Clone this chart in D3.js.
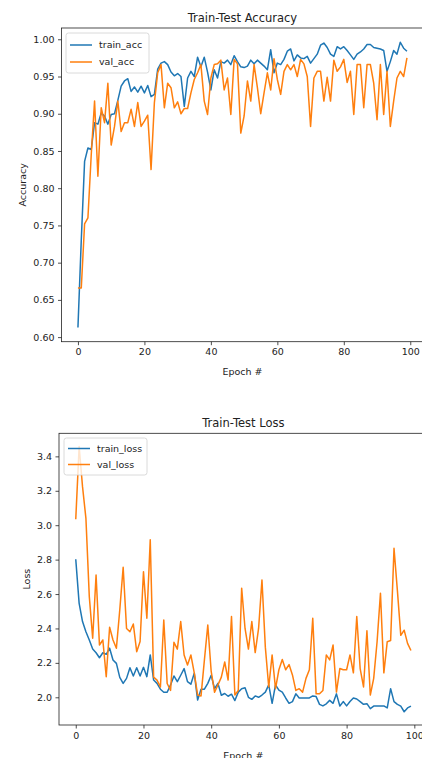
<!DOCTYPE html>
<html>
<head>
<meta charset="utf-8">
<script src="https://cdn.jsdelivr.net/npm/d3@7"></script>
<style>
  body { margin: 0; background: #fff; }
  text { font-family: "DejaVu Sans", sans-serif; fill: #222; }
</style>
</head>
<body>
<div id="chart-area"></div>
<script>
const W = 422
const H = 758

const epochs = d3.range(100)
const xTicks = [0, 20, 40, 60, 80, 100]
const accTicks = [0.60, 0.65, 0.70, 0.75, 0.80, 0.85, 0.90, 0.95, 1.00]
const lossTicks = [2.0, 2.2, 2.4, 2.6, 2.8, 3.0, 3.2, 3.4]

const trainAcc = [0.613,0.73,0.836,0.854,0.852,0.888,0.886,0.901,0.897,0.886,
  0.899,0.900,0.918,0.937,0.944,0.947,0.930,0.936,0.929,0.937,
  0.928,0.938,0.923,0.926,0.960,0.968,0.970,0.966,0.956,0.951,
  0.954,0.950,0.910,0.948,0.957,0.950,0.976,0.963,0.976,0.956,
  0.932,0.959,0.948,0.970,0.968,0.972,0.966,0.978,0.970,0.963,
  0.962,0.964,0.972,0.967,0.972,0.968,0.964,0.959,0.986,0.955,
  0.968,0.966,0.973,0.984,0.987,0.971,0.979,0.975,0.974,0.977,
  0.968,0.974,0.980,0.992,0.995,0.989,0.980,0.977,0.990,0.987,
  0.990,0.985,0.979,0.973,0.980,0.983,0.987,0.993,0.993,0.989,
  0.988,0.987,0.985,0.957,0.970,0.985,0.980,0.996,0.988,0.984]

const valAcc = [0.666,0.666,0.752,0.760,0.845,0.917,0.816,0.908,0.888,0.941,
  0.858,0.883,0.917,0.876,0.888,0.888,0.906,0.883,0.915,0.883,
  0.890,0.898,0.825,0.915,0.955,0.966,0.908,0.941,0.935,0.908,
  0.916,0.900,0.907,0.907,0.928,0.946,0.955,0.966,0.917,0.899,
  0.948,0.966,0.967,0.972,0.932,0.948,0.899,0.973,0.967,0.874,
  0.897,0.944,0.917,0.966,0.935,0.900,0.928,0.955,0.932,0.974,
  0.946,0.926,0.957,0.966,0.959,0.966,0.950,0.973,0.967,0.950,
  0.883,0.948,0.957,0.957,0.917,0.949,0.917,0.972,0.957,0.963,
  0.973,0.942,0.957,0.899,0.966,0.966,0.908,0.966,0.966,0.941,
  0.892,0.966,0.899,0.957,0.883,0.917,0.948,0.957,0.950,0.975]

const trainLoss = [2.802,2.546,2.44,2.381,2.333,2.281,2.259,2.230,2.259,2.25,
  2.285,2.217,2.197,2.116,2.081,2.110,2.172,2.124,2.172,2.124,
  2.174,2.12,2.246,2.10,2.081,2.047,2.029,2.029,2.072,2.124,
  2.091,2.128,2.167,2.091,2.076,2.140,1.984,2.047,2.047,2.081,
  2.128,2.05,2.081,2.012,2.022,2.006,2.018,1.981,2.03,2.05,
  2.055,2.0,1.988,2.008,2.0,2.013,2.03,2.072,1.965,2.072,
  2.042,2.03,1.996,1.965,1.975,2.02,1.996,1.996,1.996,1.996,
  2.008,2.004,1.959,1.95,1.962,1.982,1.965,2.02,1.949,1.975,
  1.95,1.975,1.996,1.99,1.975,1.959,1.963,1.934,1.949,1.95,
  1.949,1.95,1.938,2.05,1.975,1.959,1.949,1.916,1.938,1.949]

const valLoss = [3.035,3.457,3.224,3.04,2.585,2.343,2.711,2.304,2.333,2.12,
  2.407,2.333,2.285,2.508,2.756,2.40,2.381,2.426,2.265,2.324,
  2.730,2.459,2.915,2.117,2.10,2.06,2.449,2.08,2.04,2.32,
  2.28,2.44,2.246,2.188,2.246,2.142,2.013,2.008,2.217,2.42,
  2.15,2.029,2.072,2.117,2.205,2.10,2.469,2.013,2.04,2.634,
  2.40,2.28,2.44,2.26,2.40,2.682,2.29,2.06,2.246,2.05,
  2.16,2.22,2.16,2.19,2.13,2.04,2.05,2.03,2.11,2.16,
  2.459,2.02,2.02,2.04,2.246,2.217,2.304,2.03,2.167,2.16,
  2.16,2.246,2.142,2.469,2.167,2.06,2.387,2.013,2.11,2.323,
  2.605,2.142,2.323,2.33,2.866,2.62,2.36,2.39,2.313,2.272]

const BLUE = "#1f77b4"
const ORANGE = "#ff7f0e"

const svg = d3.select("#chart-area").append("svg")
  .attr("width", W)
  .attr("height", H)

// matplotlib-like 5% margins
function padded(values) {
  const [lo, hi] = d3.extent(values)
  const m = (hi - lo) * 0.05
  return [lo - m, hi + m]
}

function panel(opts) {
  const { left, right, top, bottom } = opts.box
  const x = d3.scaleLinear().domain([-4.95, 103.95]).range([left, right])
  const y = d3.scaleLinear().domain(padded(opts.series.flatMap(s => s.values))).range([bottom, top])

  const g = svg.append("g")

  // series
  const line = d3.line().x((d, i) => x(epochs[i])).y(d => y(d))
  opts.series.forEach(s => {
    g.append("path")
      .attr("d", line(s.values))
      .attr("fill", "none")
      .attr("stroke", s.color)
      .attr("stroke-width", 1.5)
      .attr("stroke-linejoin", "round")
  })

  // axes
  const xAxis = g.append("g")
    .attr("transform", `translate(0, ${bottom})`)
    .call(d3.axisBottom(x).tickValues(xTicks).tickSize(3.5).tickPadding(3.5).tickFormat(d3.format("d")))
  const yAxis = g.append("g")
    .attr("transform", `translate(${left}, 0)`)
    .call(d3.axisLeft(y).tickValues(opts.yTicks).tickSize(3.5).tickPadding(3.5).tickFormat(d3.format(opts.fmt)))

  ;[xAxis, yAxis].forEach(a => {
    a.select(".domain").remove()
    a.selectAll("line").attr("stroke", "#222").attr("stroke-width", 0.8)
    a.selectAll("text").attr("font-size", "9.5px").attr("fill", "#222")
      .attr("font-family", "DejaVu Sans, sans-serif")
  })

  // spines (right side falls outside the picture)
  g.append("rect")
    .attr("x", left).attr("y", top)
    .attr("width", right - left).attr("height", bottom - top)
    .attr("fill", "none").attr("stroke", "#222").attr("stroke-width", 0.8)

  // title
  g.append("text")
    .attr("x", (left + right) / 2)
    .attr("y", top - 6)
    .attr("text-anchor", "middle")
    .attr("font-size", "11.5px")
    .text(opts.title)

  // X label
  g.append("text")
    .attr("x", (left + right) / 2)
    .attr("y", bottom + 33.5)
    .attr("text-anchor", "middle")
    .attr("font-size", "9.5px")
    .text("Epoch #")

  // Y label
  g.append("text")
    .attr("x", -(top + bottom) / 2)
    .attr("y", opts.yLabelX)
    .attr("text-anchor", "middle")
    .attr("font-size", "9.5px")
    .attr("transform", "rotate(-90)")
    .text(opts.yLabel)

  // legend
  const L = opts.legend
  const leg = g.append("g").attr("transform", `translate(${L.x}, ${L.y})`)
  leg.append("rect")
    .attr("width", L.w).attr("height", L.h)
    .attr("rx", 2.5)
    .attr("fill", "#fff").attr("fill-opacity", 0.8)
    .attr("stroke", "#d0d0d0").attr("stroke-width", 0.8)
  opts.series.forEach((s, i) => {
    const cy = L.row0 + i * L.step
    leg.append("line")
      .attr("x1", 4).attr("x2", 26)
      .attr("y1", cy).attr("y2", cy)
      .attr("stroke", s.color).attr("stroke-width", 1.5)
    leg.append("text")
      .attr("x", 33)
      .attr("y", cy)
      .attr("dy", "0.35em")
      .attr("font-size", "9.5px")
      .text(s.name)
  })
}

panel({
  box: { left: 61.5, right: 423.4, top: 28, bottom: 341.7 },
  series: [
    { name: "train_acc", values: trainAcc, color: BLUE },
    { name: "val_acc", values: valAcc, color: ORANGE }
  ],
  yTicks: accTicks,
  fmt: ".2f",
  title: "Train-Test Accuracy",
  yLabel: "Accuracy",
  yLabelX: 25.5,
  legend: { x: 66, y: 33, w: 83, h: 40, row0: 12, step: 17 }
})

panel({
  box: { left: 59, right: 427.7, top: 433.3, bottom: 725 },
  series: [
    { name: "train_loss", values: trainLoss, color: BLUE },
    { name: "val_loss", values: valLoss, color: ORANGE }
  ],
  yTicks: lossTicks,
  fmt: ".1f",
  title: "Train-Test Loss",
  yLabel: "Loss",
  yLabelX: 29.5,
  legend: { x: 64, y: 438, w: 83, h: 37, row0: 10.5, step: 16 }
})
</script>
</body>
</html>
